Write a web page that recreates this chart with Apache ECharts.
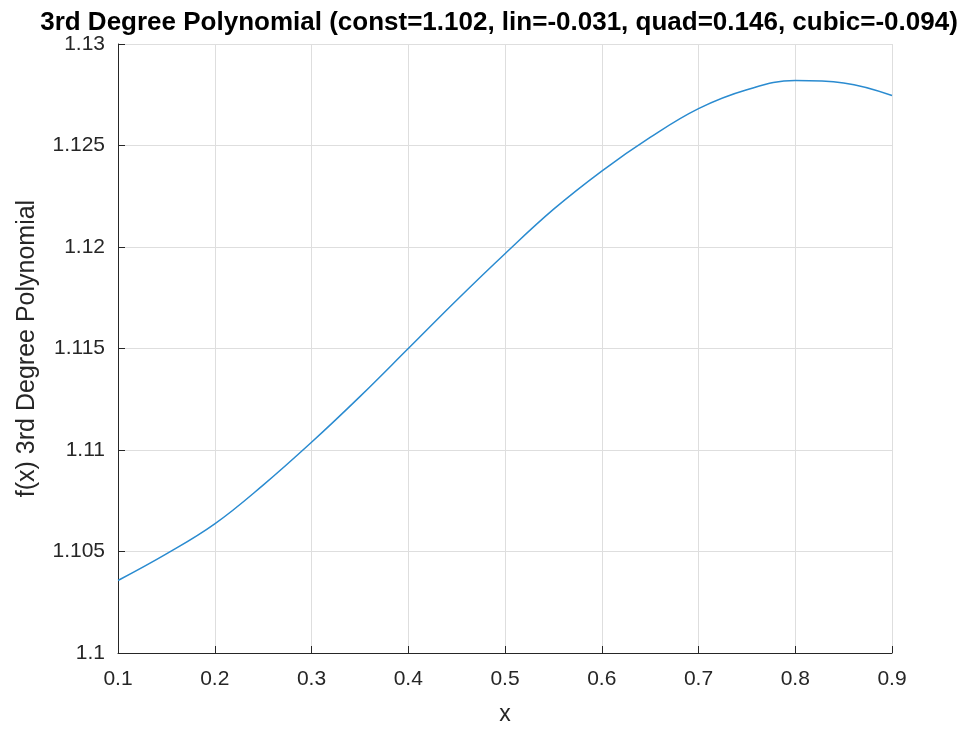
<!DOCTYPE html>
<html>
<head>
<meta charset="utf-8">
<script src="https://cdn.jsdelivr.net/npm/echarts@6/dist/echarts.min.js"></script>
<style>html,body{margin:0;padding:0;background:#fff}#c{width:971px;height:731px}</style>
</head>
<body>
<div id="c"></div>
<script>
const xValues = [0.1, 0.15, 0.2, 0.25, 0.3, 0.35, 0.4, 0.45, 0.5, 0.55, 0.6, 0.65, 0.7, 0.75, 0.8, 0.85, 0.9];
const yValues = [1.10357, 1.10488, 1.10636, 1.10827, 1.11038, 1.11263, 1.1150, 1.11738, 1.11967, 1.12185, 1.12374, 1.12540, 1.12682, 1.12775, 1.12820, 1.12808, 1.12746];
const titleText = '3rd Degree Polynomial (const=1.102, lin=-0.031, quad=0.146, cubic=-0.094)';
const xName = 'x';
const yName = 'f(x) 3rd Degree Polynomial';

const FONT = '"Liberation Sans", Arial, Helvetica, sans-serif';
const chart = echarts.init(document.getElementById('c'));
chart.setOption({
  animation: false,
  backgroundColor: '#ffffff',
  title: {
    text: titleText,
    left: 494, top: 5, textAlign: 'center',
    textStyle: {fontFamily: FONT, fontWeight: 'bold', fontSize: 26, color: '#000'}
  },
  grid: {left: 118, right: 79, top: 44, bottom: 74, containLabel: false, show: false},
  xAxis: {
    type: 'value', min: 0.1, max: 0.9, interval: 0.1,
    name: xName, nameLocation: 'middle', nameGap: 50,
    nameTextStyle: {fontFamily: FONT, fontSize: 23, color: '#262626'},
    axisLine: {show: true, onZero: false, lineStyle: {color: '#262626', width: 1}},
    axisTick: {show: true, inside: true, length: 7, lineStyle: {color: '#262626'}},
    axisLabel: {fontFamily: FONT, fontSize: 21, color: '#262626', margin: 16,
      formatter: v => parseFloat(v.toFixed(2)).toString()},
    splitLine: {show: true, lineStyle: {color: '#dedede', width: 1}}
  },
  yAxis: {
    type: 'value', min: 1.1, max: 1.13, interval: 0.005,
    name: yName, nameLocation: 'middle', nameGap: 78, nameRotate: 90,
    nameTextStyle: {fontFamily: FONT, fontSize: 25, color: '#262626'},
    axisLine: {show: true, onZero: false, lineStyle: {color: '#262626', width: 1}},
    axisTick: {show: true, inside: true, length: 7, lineStyle: {color: '#262626'}},
    axisLabel: {fontFamily: FONT, fontSize: 21, color: '#262626', margin: 13,
      formatter: v => parseFloat(v.toFixed(3)).toString()},
    splitLine: {show: true, lineStyle: {color: '#dedede', width: 1}}
  },
  series: [{
    type: 'line',
    data: xValues.map((x, i) => [x, yValues[i]]),
    smooth: 0.4,
    showSymbol: false,
    lineStyle: {color: '#2a8bd0', width: 1.5},
    clip: true
  }]
});
</script>
</body>
</html>
